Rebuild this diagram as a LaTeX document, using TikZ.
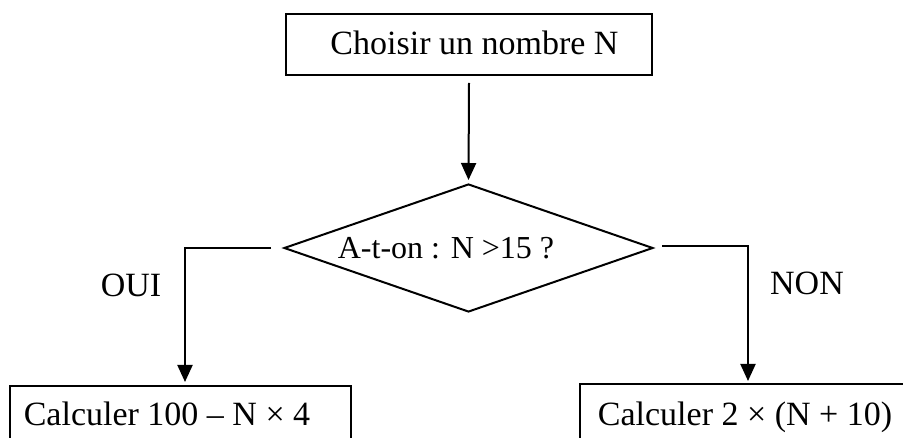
\documentclass[tikz,border=0pt]{standalone}
\usepackage{fontspec}
\setmainfont{Liberation Serif}
\usetikzlibrary{arrows.meta,shapes.geometric,calc}
\begin{document}
\begin{tikzpicture}[x=1pt,y=-1pt,
  frame/.style={draw,line width=2pt,inner sep=0pt},
  txt/.style={font=\fontsize{34}{40}\selectfont,inner sep=0pt,anchor=base},
  link/.style={line width=2pt},
  arr/.style={link,-{Triangle[length=17pt,width=15pt]}}]
\useasboundingbox (0,0) rectangle (903,438);
\clip (0,0) rectangle (903,438);
\node[frame,minimum width=366pt,minimum height=61pt] (start) at (469,44.5) {};
\node[txt] (starttxt) at (474.5,55) {Choisir un nombre N};
\node[frame,diamond,minimum width=369pt,minimum height=128pt] (test) at (468.5,248) {};
\node[txt,font=\fontsize{32}{38}\selectfont] (testtxt) at (446,259) {A-t-on : N >15 ?};
\node[frame,anchor=north west,minimum width=341pt,minimum height=100pt] (yes) at (9,385) {};
\node[txt] (yestxt) at (167,425) {Calculer 100 – N × 4};
\node[frame,anchor=north west,minimum width=340pt,minimum height=100pt] (no) at (579,383) {};
\node[txt] (notxt) at (745,425) {Calculer 2 × (N + 10)};
\node[txt] (oui) at (131,297) {OUI};
\node[txt] (non) at (807,295) {NON};
\coordinate (lturn) at (185,248);
\coordinate (rturn) at (748,246);
\draw[arr,shorten >=3pt] ($(start.south)+(0,7)$) -- (test.north);
\draw[arr,shorten >=3pt] ($(test.west)+(-12,0)$) -- (lturn) -- (lturn |- yes.north);
\draw[arr,shorten >=2pt] ($(test.east)+(8,-2)$) -- (rturn) -- (rturn |- no.north);
\end{tikzpicture}
\end{document}
